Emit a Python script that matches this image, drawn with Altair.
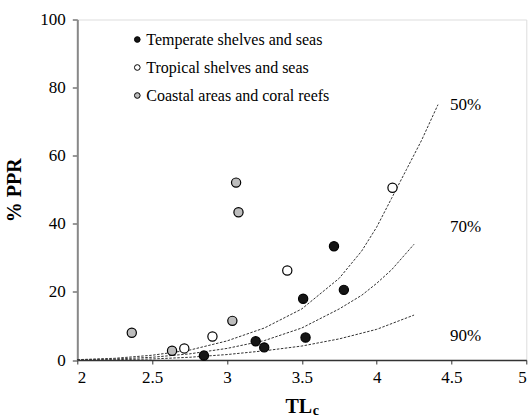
import altair as alt
import pandas as pd

# ---- data ----
regions = ["Temperate shelves and seas", "Tropical shelves and seas", "Coastal areas and coral reefs"]

temperate_tl = [2.846, 3.192, 3.249, 3.509, 3.525, 3.715, 3.781]
temperate_ppr = [1.3, 5.5, 3.7, 18.0, 6.6, 33.4, 20.6]

tropical_tl = [2.715, 2.903, 3.403, 4.106]
tropical_ppr = [3.4, 6.9, 26.3, 50.6]

coastal_tl = [2.364, 2.633, 3.036, 3.061, 3.077]
coastal_ppr = [8.0, 2.7, 11.5, 52.1, 43.4]

curve_names = ["50%", "70%", "90%"]
c50_tl = [2.0, 2.25, 2.5, 2.75, 3.0, 3.25, 3.5, 3.75, 3.9, 4.0, 4.1, 4.2, 4.3, 4.41]
c50_ppr = [0.1, 0.5, 1.4, 2.9, 5.6, 9.4, 15.0, 24.0, 32.0, 39.0, 47.5, 56.0, 64.5, 75.0]
c70_tl = [2.0, 2.25, 2.5, 2.75, 3.0, 3.25, 3.5, 3.75, 3.9, 4.0, 4.1, 4.25]
c70_ppr = [0.05, 0.3, 0.8, 1.8, 3.4, 5.7, 9.4, 15.0, 19.0, 22.5, 26.5, 34.0]
c90_tl = [2.0, 2.25, 2.5, 2.75, 3.0, 3.25, 3.5, 3.75, 4.0, 4.25]
c90_ppr = [0.0, 0.1, 0.3, 0.8, 1.6, 2.7, 4.1, 6.2, 9.0, 13.2]

label_tl = [4.49, 4.49, 4.49]
label_ppr = [75.0, 39.0, 7.0]

x_ticks = [2, 2.5, 3, 3.5, 4, 4.5, 5]
y_ticks = [0, 20, 40, 60, 80, 100]

# ---- tables ----
pts = pd.DataFrame(
    [{"TL": t, "PPR": p, "region": regions[0]} for t, p in zip(temperate_tl, temperate_ppr)]
    + [{"TL": t, "PPR": p, "region": regions[1]} for t, p in zip(tropical_tl, tropical_ppr)]
    + [{"TL": t, "PPR": p, "region": regions[2]} for t, p in zip(coastal_tl, coastal_ppr)]
)
curves = pd.DataFrame(
    [{"TL": t, "PPR": p, "curve": curve_names[0]} for t, p in zip(c50_tl, c50_ppr)]
    + [{"TL": t, "PPR": p, "curve": curve_names[1]} for t, p in zip(c70_tl, c70_ppr)]
    + [{"TL": t, "PPR": p, "curve": curve_names[2]} for t, p in zip(c90_tl, c90_ppr)]
)
labels = pd.DataFrame({"TL": label_tl, "PPR": label_ppr, "txt": curve_names})

FONT = "Liberation Serif"
W, H = 449, 340.5

xscale = alt.Scale(domain=[2, 5], nice=False, zero=False)
yscale = alt.Scale(domain=[0, 100], nice=False)

x_axis = alt.Axis(values=x_ticks, format="~g", title="TL", grid=False,
                  domainColor="#333", domainWidth=1.5, tickColor="#333", tickSize=4,
                  labelFont=FONT, labelFontSize=17, labelColor="black", labelPadding=5,
                  titleFont=FONT, titleFontSize=20, titleFontWeight="bold", titleColor="black",
                  titleBaseline="alphabetic", titleY=52, titleX=221)
y_axis = alt.Axis(values=y_ticks, title="% PPR", grid=False,
                  domainColor="#888", domainWidth=2, tickColor="#333", tickSize=5,
                  labelFont=FONT, labelFontSize=17, labelColor="black", labelPadding=7,
                  titleFont=FONT, titleFontSize=20, titleFontWeight="bold", titleColor="black",
                  titleX=-53, titleY=H / 2)

curve_layer = alt.Chart(curves).mark_line(
    color="#333", strokeWidth=1, strokeDash=[2.5, 1.5]
).encode(
    x=alt.X("TL:Q", scale=xscale, axis=x_axis),
    y=alt.Y("PPR:Q", scale=yscale, axis=y_axis),
    detail="curve:N",
)

point_layer = alt.Chart(pts).mark_point(
    shape="circle", filled=True, size=85, stroke="black", strokeWidth=1.2, opacity=1
).encode(
    x=alt.X("TL:Q", scale=xscale),
    y=alt.Y("PPR:Q", scale=yscale),
    fill=alt.Fill("region:N",
                  scale=alt.Scale(domain=regions, range=["#151515", "#ffffff", "#bdbdbd"]),
                  legend=alt.Legend(orient="none", legendX=52, legendY=12, title=None,
                                    labelFont=FONT, labelFontSize=16, labelColor="black",
                                    labelLimit=400,
                                    symbolType="circle", symbolSize=32,
                                    symbolStrokeColor="black", symbolStrokeWidth=1,
                                    symbolOpacity=1, labelOffset=1, rowPadding=12,
                                    padding=0)),
)

label_layer = alt.Chart(labels).mark_text(
    font=FONT, fontSize=17, align="left", baseline="middle", color="black"
).encode(
    x=alt.X("TL:Q", scale=xscale),
    y=alt.Y("PPR:Q", scale=yscale),
    text="txt:N",
)

sub_layer = alt.Chart(pd.DataFrame({"s": ["c"]})).mark_text(
    font=FONT, fontSize=14, fontWeight="bold", align="left", baseline="bottom", color="black"
).encode(
    x=alt.value(235.5), y=alt.value(H + 57.5), text="s:N"
)

chart = alt.layer(curve_layer, point_layer, label_layer, sub_layer).properties(
    width=W, height=H,
    autosize=alt.AutoSizeParams(type="none"),
    padding={"left": 77.3, "top": 19.5, "right": 2.7, "bottom": 58},
).configure_view(stroke=None).configure(
    background="white", font=FONT
).configure_axis(
    labelFont=FONT, titleFont=FONT
).configure_legend(
    labelFont=FONT
).configure_text(font=FONT)

chart.save("out.html", embed_options={"renderer": "svg", "actions": False})
